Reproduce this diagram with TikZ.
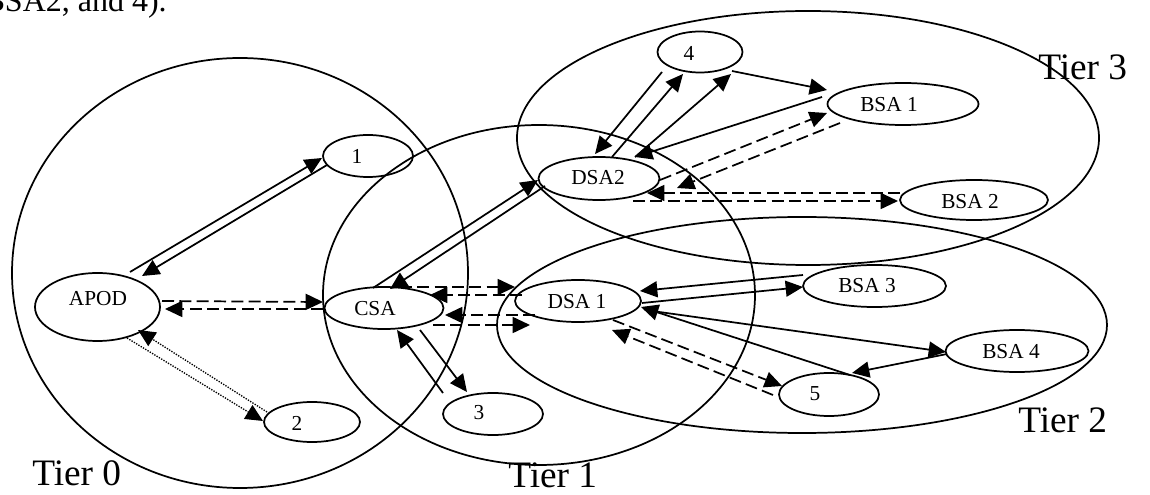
\documentclass[tikz,border=0pt]{standalone}
\usepackage{fontspec}
\setmainfont{Liberation Serif}
\usetikzlibrary{arrows.meta,shapes.geometric,calc}
\begin{document}
\begin{tikzpicture}[x=0.75pt,y=-0.75pt,
  nd/.style={ellipse, draw, line width=1.3pt, inner sep=0pt},
  sz/.style 2 args={minimum width=#1*0.75pt, minimum height=#2*0.75pt},
  lbl/.style={font=\fontsize{16}{16}\selectfont, inner sep=0pt},
  tier/.style={font=\fontsize{28}{28}\selectfont, inner sep=0pt, anchor=base west},
  region/.style={line width=1.3pt},
  con/.style={line width=1.3pt, -{Triangle[length=13pt,width=12pt]}},
  dsh/.style={con, dash pattern=on 9pt off 4pt},
  dot/.style={line width=1pt, dash pattern=on 1pt off 1pt, -{Triangle[length=13pt,width=12pt]}}]
\useasboundingbox (0,0) rectangle (1150,495);
\clip (0,0) rectangle (1150,495);

% tier regions
\draw[region] (240,273) ellipse [x radius=228, y radius=215];
\draw[region] (539,295) ellipse [x radius=216, y radius=170];
\draw[region] (802,325) ellipse [x radius=305, y radius=108];
\draw[region] (808,138) ellipse [x radius=291, y radius=127];

% top text
\node[font=\fontsize{24}{24}\selectfont, anchor=base east, inner sep=0pt] (toptext) at (167,12) {BSA2, and 4).};

% nodes
\node[nd, sz={125}{68}] (apod) at (97.5,307) {};
\node[nd, sz={90}{42}] (n1) at (368,156) {};
\node[nd, sz={96}{40}] (n2) at (312,422) {};
\node[nd, sz={119}{42}] (csa) at (384,308) {};
\node[nd, sz={100}{42}] (n3) at (493,414) {};
\node[nd, sz={126}{42}] (dsa1) at (578,301) {};
\node[nd, sz={121}{43}] (dsa2) at (599,178.5) {};
\node[nd, sz={85}{41}] (n4) at (700,52) {};
\node[nd, sz={151}{42}] (bsa1) at (903,104) {};
\node[nd, sz={148}{40}] (bsa2) at (974,200) {};
\node[nd, sz={143}{42}] (bsa3) at (874.5,286) {};
\node[nd, sz={143}{42}] (bsa4) at (1017,351) {};
\node[nd, sz={100}{43}] (n5) at (829,394.5) {};

% labels
\node[lbl] (apodt) at (98,299) {APOD};
\node[lbl] (n1t) at (357,156) {1};
\node[lbl] (n2t) at (297,423) {2};
\node[lbl] (csat) at (375,309) {CSA};
\node[lbl] (n3t) at (479,413) {3};
\node[lbl] (dsa1t) at (577,302) {DSA 1};
\node[lbl] (dsa2t) at (598,178) {DSA2};
\node[lbl] (n4t) at (689,53) {4};
\node[lbl] (bsa1t) at (889,105) {BSA 1};
\node[lbl] (bsa2t) at (970,202) {BSA 2};
\node[lbl] (bsa3t) at (867,286) {BSA 3};
\node[lbl] (bsa4t) at (1011,352) {BSA 4};
\node[lbl] (n5t) at (815,394) {5};

% tier labels
\node[tier] (t0) at (32,485) {Tier 0};
\node[tier] (t1) at (508,487) {Tier 1};
\node[tier] (t2) at (1018,432) {Tier 2};
\node[tier] (t3) at (1038,80) {Tier 3};

% connectors
\draw[con] ($(apod)+(32.5,-35)$) -- ($(n1)+(-46,2)$);
\draw[con] ($(n1)+(-41,9)$) -- ($(apod)+(44.5,-31)$);
\draw[dsh] ($(apod)+(64.5,-6)$) -- ($(csa)+(-61,-6)$);
\draw[dsh] ($(csa)+(-61,1)$) -- ($(apod)+(67.5,2)$);
\draw[dot] ($(n2)+(-45,-10)$) -- ($(apod)+(40.5,23)$);
\draw[dot] ($(apod)+(29.5,31)$) -- ($(n2)+(-49,-1)$);
\draw[con] ($(csa)+(-11,-20)$) -- ($(dsa2)+(-61,1.5)$);
\draw[con] ($(dsa2)+(-54,7.5)$) -- ($(csa)+(6,-19)$);
\draw[dsh] ($(csa)+(16,-21)$) -- ($(dsa1)+(-63,-14)$);
\draw[dsh] ($(dsa1)+(-56,-6)$) -- ($(csa)+(46,-13)$);
\draw[dsh] ($(dsa1)+(-43,14)$) -- ($(csa)+(61,7)$);
\draw[dsh] ($(csa)+(49,17)$) -- ($(dsa1)+(-48,24)$);
\draw[con] ($(n3)+(-50,-21)$) -- ($(csa)+(13,22)$);
\draw[con] ($(csa)+(36,22)$) -- ($(n3)+(-26,-22)$);
\draw[con] ($(n4)+(-38,20)$) -- ($(dsa2)+(-4,-24.5)$);
\draw[con] ($(dsa2)+(13,-21.5)$) -- ($(n4)+(-17,22)$);
\draw[con] ($(dsa2)+(36,-21.5)$) -- ($(n4)+(31,22)$);
\draw[con] ($(n4)+(32,19)$) -- ($(bsa1)+(-76,-14)$);
\draw[con] ($(bsa1)+(-81,-7)$) -- ($(dsa2)+(36,-21.5)$);
\draw[dsh] ($(dsa2)+(61,1.5)$) -- ($(bsa1)+(-76,9)$);
\draw[dsh] ($(bsa1)+(-63,19)$) -- ($(dsa2)+(78,9.5)$);
\draw[dsh] ($(bsa2)+(-74,-7)$) -- ($(dsa2)+(48,14.5)$);
\draw[dsh] ($(dsa2)+(34,22.5)$) -- ($(bsa2)+(-76,1)$);
\draw[con] ($(bsa3)+(-71.5,-11)$) -- ($(dsa1)+(62,-10)$);
\draw[con] ($(dsa1)+(64,2)$) -- ($(bsa3)+(-71.5,1)$);
\draw[con] ($(dsa1)+(67,9)$) -- ($(bsa4)+(-71,1)$);
\draw[con] ($(bsa4)+(-70,3)$) -- ($(n5)+(23,-21.5)$);
\draw[con] ($(n5)+(21,-19.5)$) -- ($(dsa1)+(63,6)$);
\draw[dsh] ($(dsa1)+(35,19)$) -- ($(n5)+(-47,-8.5)$);
\draw[dsh] ($(n5)+(-56,0.5)$) -- ($(dsa1)+(34,29)$);
\end{tikzpicture}
\end{document}
